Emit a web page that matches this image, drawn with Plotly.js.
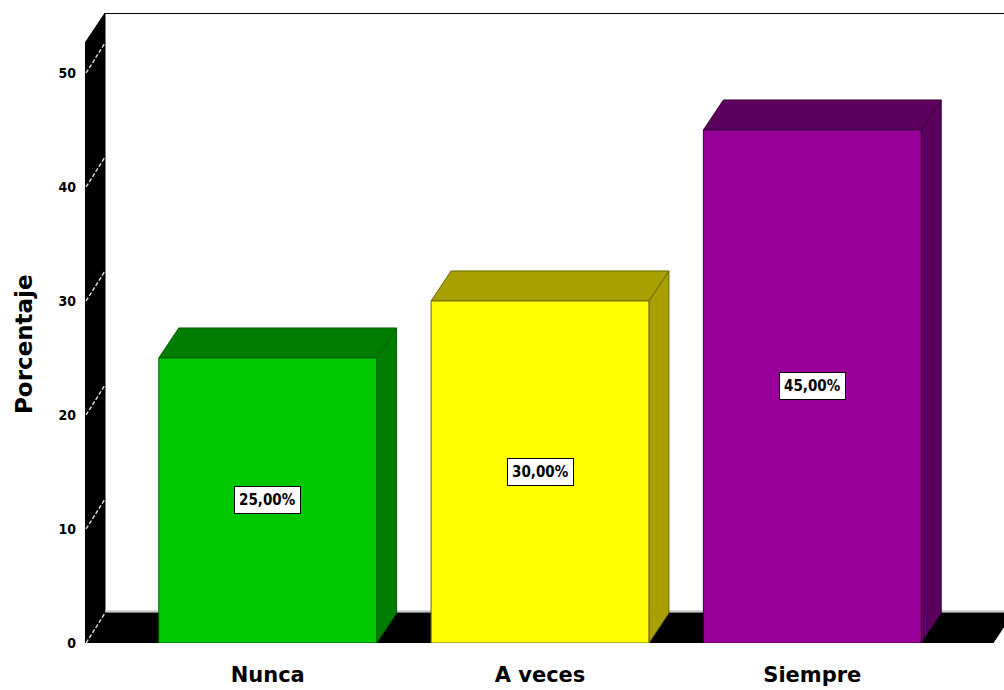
<!DOCTYPE html>
<html>
<head>
<meta charset="utf-8">
<script src="https://cdn.plot.ly/plotly-3.0.1.min.js"></script>
<style>html,body{margin:0;padding:0;background:#fff;}#chart{width:1004px;height:690px;}</style>
</head>
<body>
<div id="chart"></div>
<script>
// ---- data ----
const categories = ['Nunca', 'A veces', 'Siempre'];
const values = [25, 30, 45];
const valueLabels = ['25,00%', '30,00%', '45,00%'];
const yTickValues = [0, 10, 20, 30, 40, 50];
const yTitle = 'Porcentaje';

// ---- styles ----
const frontColors = ['#00C800', '#FFFF00', '#990099'];
const sideColors = ['#007C00', '#A8A000', '#5C005E'];
const edgeColors = ['#006000', '#6E6600', '#3A003A'];

const W = 1004, H = 690;
const M = {l: 85, r: 0, t: 13, b: 47};
const xRange = [-0.671, 2.704];
const yRange = [0, 55.26];
const plotW = W - M.l - M.r, plotH = H - M.t - M.b;
const pxPerX = plotW / (xRange[1] - xRange[0]);
const pxPerY = plotH / (yRange[1] - yRange[0]);
const depthPx = [20, 30];
const DX = depthPx[0] / pxPerX;
const DY = depthPx[1] / pxPerY;
const barW = 0.8;
const xMin = xRange[0], xMax = xRange[1];
const floorEnd = xMax - 11 / pxPerX;

const shapes = [];
// back wall top border
shapes.push({type: 'line', layer: 'below', xref: 'x', yref: 'y', x0: xMin + DX, x1: xMax, y0: yRange[1], y1: yRange[1], line: {color: '#000', width: 2}});
// left wall
shapes.push({type: 'path', layer: 'below', xref: 'x', yref: 'y',
  path: `M ${xMin} 0 L ${xMin + DX} ${DY} L ${xMin + DX} ${yRange[1]} L ${xMin} ${yRange[1] - DY} Z`,
  fillcolor: '#000', line: {color: '#000', width: 1}});
// floor back gray edge
shapes.push({type: 'line', layer: 'below', xref: 'x', yref: 'y', x0: xMin + DX, x1: xMax, y0: DY + 0.15, y1: DY + 0.15, line: {color: '#c8c8c8', width: 2}});
// floor
shapes.push({type: 'path', layer: 'below', xref: 'x', yref: 'y',
  path: `M ${xMin} 0 L ${xMin + DX} ${DY} L ${floorEnd + DX} ${DY} L ${floorEnd} 0 Z`,
  fillcolor: '#000', line: {color: '#000', width: 1}});
// tick dashes on the wall
yTickValues.forEach(v => {
  shapes.push({type: 'line', layer: 'below', xref: 'x', yref: 'y', x0: xMin + 0.004, y0: v, x1: xMin + DX, y1: v + DY,
    line: {color: '#e0e0e0', width: 1.4, dash: '4px,2px'}});
});
// bar side and top faces
values.forEach((v, i) => {
  const x0 = i - barW / 2, x1 = i + barW / 2;
  shapes.push({type: 'path', layer: 'below', xref: 'x', yref: 'y',
    path: `M ${x1} 0 L ${x1 + DX} ${DY} L ${x1 + DX} ${v + DY} L ${x1} ${v} Z`,
    fillcolor: sideColors[i], line: {color: edgeColors[i], width: 1}});
  shapes.push({type: 'path', layer: 'below', xref: 'x', yref: 'y',
    path: `M ${x0} ${v} L ${x0 + DX} ${v + DY} L ${x1 + DX} ${v + DY} L ${x1} ${v} Z`,
    fillcolor: sideColors[i], line: {color: edgeColors[i], width: 1}});
});

const annotations = values.map((v, i) => ({
  x: categories[i], y: v / 2, xref: 'x', yref: 'y', text: valueLabels[i], showarrow: false,
  font: {family: '"DejaVu Sans Condensed", "Liberation Sans Narrow", sans-serif', size: 15, color: '#000', weight: 'bold'},
  bgcolor: '#ffffff', bordercolor: '#000', borderwidth: 1, borderpad: 4
}));
annotations.push({
  xref: 'paper', yref: 'paper', x: (24 - M.l) / plotW, y: 1 - (344 - M.t) / plotH,
  text: yTitle, textangle: -90, showarrow: false, xanchor: 'center', yanchor: 'middle',
  font: {family: '"DejaVu Sans", sans-serif', size: 23, color: '#000', weight: 'bold'}
});

const trace = {
  type: 'bar', x: categories, y: values, width: barW,
  marker: {color: frontColors, line: {color: edgeColors, width: 1}},
  hoverinfo: 'none', showlegend: false
};

const layout = {
  width: W, height: H, margin: M,
  paper_bgcolor: '#fff', plot_bgcolor: '#fff',
  showlegend: false,
  xaxis: {type: 'category', range: xRange, showgrid: false, zeroline: false, showline: false, ticks: '',
    ticklabelstandoff: 17, fixedrange: true,
    tickfont: {family: '"DejaVu Sans", sans-serif', size: 21, color: '#000', weight: 'bold'}},
  yaxis: {range: yRange, tickvals: yTickValues, showgrid: false, zeroline: false, showline: false, ticks: '',
    ticklabelstandoff: 8, fixedrange: true,
    tickfont: {family: '"DejaVu Sans Condensed", "DejaVu Sans", sans-serif', size: 14, color: '#000', weight: 'bold'}},
  shapes: shapes, annotations: annotations
};

Plotly.newPlot('chart', [trace], layout, {displayModeBar: false, staticPlot: true});
</script>
</body>
</html>
